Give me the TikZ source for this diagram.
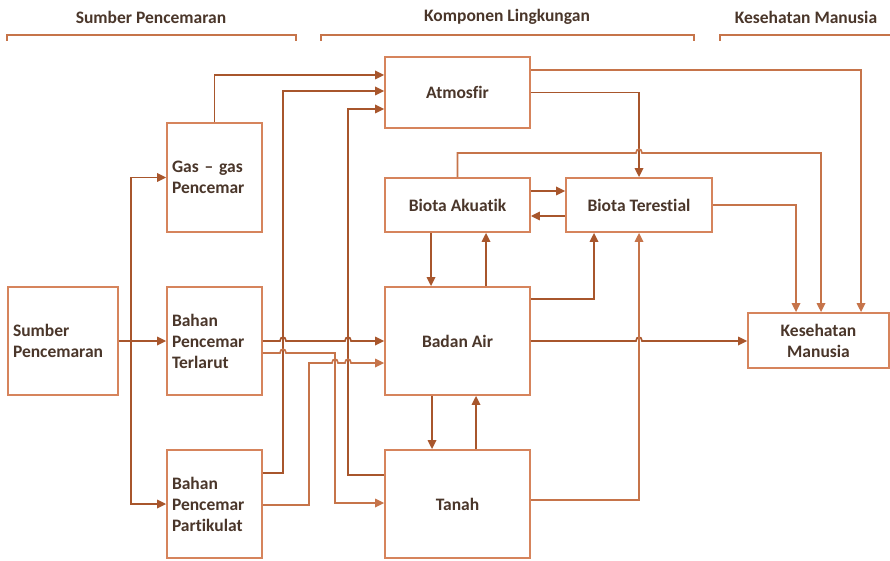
\documentclass[tikz,border=0pt]{standalone}
\usepackage{fontspec}
\setmainfont{Carlito}[Ligatures=NoCommon]
\usetikzlibrary{arrows.meta}
\definecolor{boxc}{RGB}{214,132,92}
\definecolor{linec}{RGB}{168,86,44}
\definecolor{lightc}{RGB}{198,116,74}
\definecolor{txtc}{RGB}{74,54,42}
\tikzset{
  box/.style={draw=boxc, line width=1.8pt, fill=white, inner sep=0pt, text=txtc,
    font=\fontsize{17.5}{21}\selectfont\bfseries, align=center},
  lbox/.style={box, align=left, inner xsep=5pt},
  conn/.style={draw=linec, line width=1.7pt, -{Triangle[length=9pt,width=8.5pt]}},
  lconn/.style={conn, draw=lightc},
  hdr/.style={text=txtc, font=\fontsize{17.5}{20}\selectfont\bfseries, inner sep=0pt},
  brk/.style={draw=lightc, line width=1.8pt}
}
\begin{document}
\begin{tikzpicture}[x=1pt,y=-1pt]
\useasboundingbox (0,0) rectangle (890,561);
% headers
\node[hdr] (h1) at (151,17) {Sumber Pencemaran};
\node[hdr] (h2) at (507,17) {Komponen Lingkungan};
\node[hdr] (h3) at (806,17) {Kesehatan Manusia};
\draw[brk] (7,41) -- (7,35) -- (296,35) -- (296,41);
\draw[brk] (321,41) -- (321,35) -- (694,35) -- (694,41);
\draw[brk] (720,41) -- (720,35) -- (892,35);
% boxes
\node[lbox, minimum width=110pt, minimum height=108pt, text width=100pt] (src) at (63,341) {Sumber\\Pencemaran};
\node[lbox, minimum width=95pt, minimum height=109pt, text width=85pt] (gas) at (214.5,177.5) {Gas – gas\\Pencemar};
\node[lbox, minimum width=95pt, minimum height=108pt, text width=85pt] (terl) at (214.5,341) {Bahan\\Pencemar\\Terlarut};
\node[lbox, minimum width=95pt, minimum height=108pt, text width=85pt] (part) at (214.5,504) {Bahan\\Pencemar\\Partikulat};
\node[box, minimum width=145pt, minimum height=71pt] (atm) at (457.5,92.5) {Atmosfir};
\node[box, minimum width=145pt, minimum height=54pt] (aku) at (457.5,205) {Biota Akuatik};
\node[box, minimum width=146pt, minimum height=54pt] (ter) at (639,205) {Biota Terestial};
\node[box, minimum width=145pt, minimum height=108pt] (air) at (457.5,341) {Badan Air};
\node[box, minimum width=145pt, minimum height=108pt] (tanah) at (457.5,504) {Tanah};
\node[box, minimum width=141pt, minimum height=55pt] (kes) at (818.5,340.5) {Kesehatan\\Manusia};
% sources
\coordinate (split) at (131,341);
\draw[conn] (src.east) -- (terl.west);
\draw[conn] (split) |- (gas.west);
\draw[conn] (split) |- (part.west);
% to atmosfir
\draw[conn] (gas.north) |- (atm.west |- 0,75);
\draw[conn] (part.east |- 0,473) -| (283,91) -- (atm.west |- 0,91);
\draw[conn] (tanah.west |- 0,475) -| (348,109) -- (atm.west |- 0,109);
% terlarut
\draw[conn] (terl.east) -- (280,341) .. controls (280,336) and (286,336) .. (286,341)
  -- (345,341) .. controls (345,336) and (351,336) .. (351,341) -- (air.west);
\draw[lconn] (terl.east |- 0,353) -- (280,353) .. controls (280,348) and (286,348) .. (286,353)
  -- (335,353) -- (335,503) -- (tanah.west |- 0,503);
% partikulat
\draw[lconn] (part.east |- 0,505) -- (309,505) -- (309,363) -- (332,363)
  .. controls (332,358) and (338,358) .. (338,363) -- (345,363)
  .. controls (345,358) and (351,358) .. (351,363) -- (air.west |- 0,363);
% atmosfir out
\draw[lconn] (atm.east |- 0,70) -| (kes.north -| 861,0);
\draw[conn] (atm.east) -| (ter.north);
% biota
\draw[lconn] (aku.north) |- (636,153) .. controls (636,148) and (642,148) .. (642,153)
  -| (kes.north -| 821,0);
\draw[conn] (aku.east |- 0,191) -- (ter.west |- 0,191);
\draw[conn] (ter.west |- 0,216) -- (aku.east |- 0,216);
\draw[lconn] (ter.east) -| (kes.north -| 796,0);
\draw[conn] (aku.south -| 431,0) -- (air.north -| 431,0);
\draw[conn] (air.north -| 486,0) -- (aku.south -| 486,0);
% badan air
\draw[conn] (air.east |- 0,299) -| (ter.south -| 594,0);
\draw[conn] (air.east) -- (636,341) .. controls (636,336) and (642,336) .. (642,341) -- (kes.west |- 0,341);
\draw[conn] (air.south -| 432,0) -- (tanah.north -| 432,0);
\draw[conn] (tanah.north -| 476,0) -- (air.south -| 476,0);
% tanah
\draw[lconn] (tanah.east |- 0,500) -| (ter.south);
\end{tikzpicture}
\end{document}
